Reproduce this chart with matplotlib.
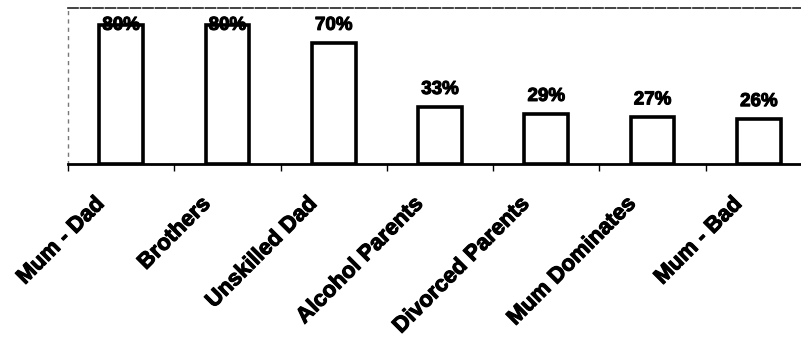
import matplotlib
matplotlib.use("Agg")
import matplotlib.pyplot as plt
import matplotlib.transforms as mtransforms
import matplotlib.patheffects as pe
import numpy as np

categories = ["Mum - Dad", "Brothers", "Unskilled Dad", "Alcohol Parents",
              "Divorced Parents", "Mum Dominates", "Mum - Bad"]
values = [80, 80, 70, 33, 29, 27, 26]

plt.rcParams["font.family"] = ["Liberation Sans", "DejaVu Sans"]

fig = plt.figure(figsize=(8.01, 3.40), dpi=100)
W, H = 801, 340
ax = fig.add_axes([68 / W, 176 / H, 744 / W, 156 / H])

x = np.arange(len(categories))
ax.bar(x, values, width=0.41, color="white", edgecolor="black", linewidth=2.6, zorder=3)

ymax = 90
ax.set_xlim(-0.5, len(categories) - 0.5)
ax.set_ylim(0, ymax)

heavy = [pe.withStroke(linewidth=0.8, foreground="black")]

for xi, v in zip(x, values):
    ty = min(v + 10, ymax - 10)
    ax.text(xi, ty, f"{v}%", ha="center", va="center", fontsize=13.5,
            fontweight="bold", color="black", zorder=4, path_effects=heavy)

# category boundaries as ticks
ax.set_xticks(np.arange(-0.5, len(categories), 1.0))
ax.set_xticklabels([])
ax.tick_params(axis="x", direction="out", length=5, width=1.0, color="black")
ax.set_yticks([])

for xi, name in zip(x, categories):
    off = mtransforms.ScaledTranslation(-20 / 100, -37 / 100, fig.dpi_scale_trans)
    ax.text(xi, 0, name, transform=ax.get_xaxis_transform() + off,
            rotation=45, rotation_mode="anchor", ha="right", va="center",
            fontsize=16, fontweight="bold", color="black", path_effects=heavy)

ax.spines["bottom"].set_linewidth(2.0)
ax.spines["bottom"].set_color("black")
ax.spines["top"].set_linestyle((0, (6, 1.5)))
ax.spines["top"].set_linewidth(1.2)
ax.spines["top"].set_color("#222222")
ax.spines["left"].set_linestyle((0, (2, 4)))
ax.spines["left"].set_linewidth(1.0)
ax.spines["left"].set_color("#777777")
ax.spines["right"].set_visible(False)

fig.savefig("out.png", dpi=100)
